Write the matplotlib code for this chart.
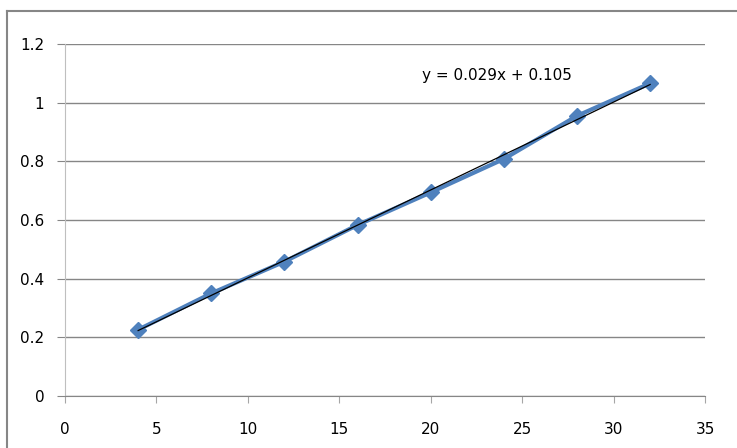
import numpy as np
import matplotlib
matplotlib.use('Agg')
import matplotlib.pyplot as plt
from matplotlib.lines import Line2D

# concentration vs absorbance readings
x_vals = [4, 8, 12, 16, 20, 24, 28, 32]
y_vals = [0.226, 0.350, 0.458, 0.583, 0.694, 0.808, 0.955, 1.066]
eq_label = 'y = 0.029x + 0.105'

plt.rcParams['font.family'] = 'DejaVu Sans'

fig = plt.figure(figsize=(7.37, 4.48), dpi=100)
ax = fig.add_axes([65 / 737, 1 - 396 / 448, 640 / 737, 352 / 448])

# outer chart frame: only top and left edges show in the picture
top = 1 - 11 / 448
left = 7 / 737
fig.lines.append(Line2D([left, 1.0], [top, top], transform=fig.transFigure,
                        color='#868686', linewidth=1.5))
fig.lines.append(Line2D([left, left], [0.0, top], transform=fig.transFigure,
                        color='#868686', linewidth=1.5))

ax.plot(x_vals, y_vals, color='#4F81BD', linewidth=3, marker='D',
        markersize=8, markeredgecolor='#4F81BD', zorder=3)

# linear trendline
m, b = np.polyfit(x_vals, y_vals, 1)
xs = np.array([x_vals[0], x_vals[-1]])
ax.plot(xs, m * xs + b, color='black', linewidth=0.9, zorder=4)

ax.text(19.5, 1.094, eq_label, fontsize=11, va='center', ha='left')

ax.set_xlim(0, 35)
ax.set_ylim(0, 1.2)
ax.set_xticks(range(0, 36, 5))
ax.set_yticks([0, 0.2, 0.4, 0.6, 0.8, 1.0, 1.2])
ax.set_yticklabels(['0', '0.2', '0.4', '0.6', '0.8', '1', '1.2'])

ax.grid(axis='y', color='#868686', linewidth=1)
ax.set_axisbelow(True)
for s in ['top', 'right']:
    ax.spines[s].set_visible(False)
ax.spines['left'].set_color('#BFBFBF')
ax.spines['bottom'].set_color('#868686')
ax.tick_params(axis='y', length=6, color='#868686', pad=9, labelsize=11)
ax.tick_params(axis='x', length=5, color='#A6A6A6', pad=14, labelsize=11)

plt.savefig('out.png', dpi=100)
